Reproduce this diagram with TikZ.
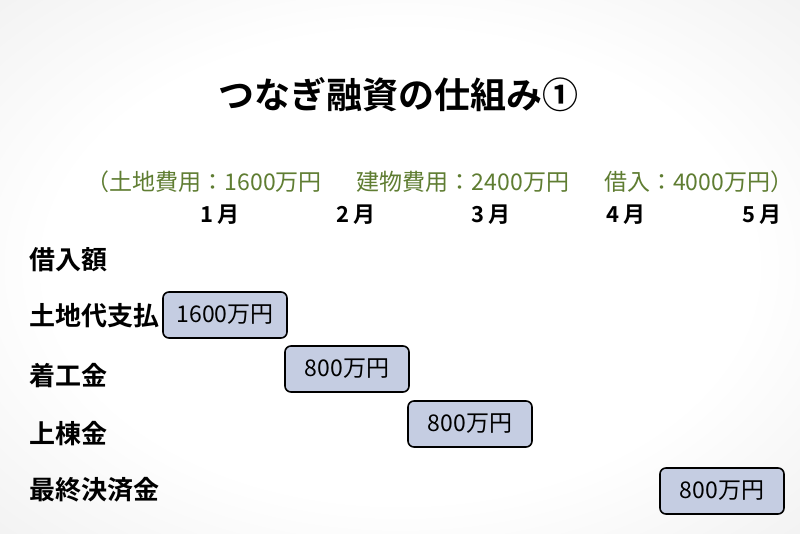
\documentclass[tikz,border=0pt]{standalone}
\usepackage{fontspec}
\setmainfont{Noto Sans CJK JP}[BoldFont={Noto Sans CJK JP Bold}]
\usepackage{tikz}
\usepackage{xcolor}
\definecolor{boxblue}{RGB}{197,205,226}
\definecolor{costgreen}{RGB}{95,125,50}
\pgfdeclareradialshading{paper}{\pgfpoint{0bp}{0bp}}{color(0bp)=(white); color(22bp)=(white); color(50bp)=(black!10); color(72bp)=(black!26)}

\begin{document}
\begin{tikzpicture}[x=1pt,y=1pt,
        lbl/.style={anchor=west,font=\fontsize{26}{30}\selectfont\bfseries},
        month/.style={font=\fontsize{22}{26}\selectfont\bfseries},
        pay/.style={draw,line width=1.6pt,rounded corners=6pt,fill=boxblue,
                    minimum width=124pt,minimum height=46pt,inner sep=0pt,
                    font=\fontsize{23}{27}\selectfont}]
        % background
        \shade[shading=paper] (0,0) rectangle (800,533);
        \useasboundingbox (0,0) rectangle (800,533);
        % title and costs
        \node[font=\fontsize{36}{40}\selectfont\bfseries] (title) at (398,438) {つなぎ融資の仕組み①};
        \node[text=costgreen,font=\fontsize{23}{27}\selectfont] (cost) at (440,351)
              {（土地費用：1600万円\hspace{35pt}建物費用：2400万円\hspace{35pt}借入：4000万円）};
        % months
        \foreach \m/\x in {1/220,2/356,3/491,4/626,5/762}
              \node[month] (m\m) at (\x,318) {\m\ 月};
        % rows
        \foreach \r/\y/\t in {loan/273/借入額,land/217/土地代支払,start/157/着工金,
                              frame/99/上棟金,final/43/最終決済金}
              \node[lbl] (\r) at (26,\y) {\t};
        % payments
        \node[pay] (p1) at (225,218) {1600万円};
        \node[pay] (p2) at (347,164) {800万円};
        \node[pay] (p3) at (470,109) {800万円};
        \node[pay] (p4) at (722,42) {800万円};
\end{tikzpicture}
\end{document}
